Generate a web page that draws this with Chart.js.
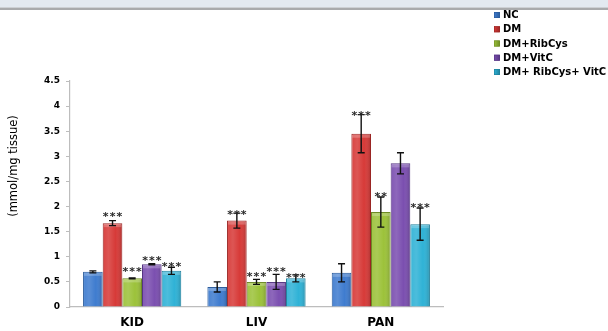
<!DOCTYPE html>
<html>
<head>
<meta charset="utf-8">
<script src="https://cdn.jsdelivr.net/npm/chart.js@4/dist/chart.umd.min.js"></script>
<style>
  html, body { margin: 0; padding: 0; background: #fff; }
  #wrap { width: 608px; height: 331px; position: relative; }
</style>
</head>
<body>
<div id="wrap"><canvas id="c" width="608" height="331"></canvas></div>
<script>
// Tissues on the x axis
const categories = ['KID', 'LIV', 'PAN'];

// Group names
const groupNames = ['NC', 'DM', 'DM+RibCys', 'DM+VitC', 'DM+ RibCys+ VitC'];

// Mean values (mmol/mg tissue)
const ncValues      = [0.70, 0.40, 0.68];
const dmValues      = [1.67, 1.72, 3.45];
const ribCysValues  = [0.57, 0.50, 1.89];
const vitCValues    = [0.85, 0.50, 2.86];
const comboValues   = [0.72, 0.57, 1.65];

// Error (± SEM)
const ncErr     = [0.02, 0.10, 0.18];
const dmErr     = [0.05, 0.15, 0.38];
const ribCysErr = [0.01, 0.05, 0.30];
const vitCErr   = [0.01, 0.15, 0.21];
const comboErr  = [0.07, 0.07, 0.32];

// Significance marks and the level (in axis units) where each is written
const ncSig      = ['', '', ''];
const dmSig      = ['***', '***', '***'];
const ribCysSig  = ['***', '***', '**'];
const vitCSig    = ['***', '***', ''];
const comboSig   = ['***', '***', '***'];
const ncSigAt     = [null, null, null];
const dmSigAt     = [1.87, 1.91, 3.88];
const ribCysSigAt = [0.78, 0.68, 2.26];
const vitCSigAt   = [0.99, 0.78, null];
const comboSigAt  = [0.88, 0.65, 2.05];

// Y axis ticks
const yTicks = [0, 0.5, 1, 1.5, 2, 2.5, 3, 3.5, 4, 4.5];
const yTitle = '(mmol/mg tissue)';

const fills   = ['#3f7ccf', '#d73a38', '#9cc23a', '#7b4fb0', '#2fb2d6'];
const borders = ['#2a5a9a', '#9a2624', '#6d8a25', '#553582', '#1f7f9a'];

const values = [ncValues, dmValues, ribCysValues, vitCValues, comboValues];
const errors = [ncErr, dmErr, ribCysErr, vitCErr, comboErr];
const sigs   = [ncSig, dmSig, ribCysSig, vitCSig, comboSig];
const sigAt  = [ncSigAt, dmSigAt, ribCysSigAt, vitCSigAt, comboSigAt];

const FONT = '"DejaVu Sans", "Liberation Sans", Arial, sans-serif';

// Page header band
const headerBand = {
  id: 'headerBand',
  beforeDraw(chart) {
    const ctx = chart.ctx;
    ctx.save();
    ctx.fillStyle = '#e3e9f0';
    ctx.fillRect(0, 0, chart.width, 7);
    ctx.fillStyle = '#cdd0d4';
    ctx.fillRect(0, 7, chart.width, 1);
    ctx.fillStyle = '#a9aaac';
    ctx.fillRect(0, 8, chart.width, 2);
    ctx.restore();
  }
};

// Glossy shading on the bars, error bars and significance stars
const barExtras = {
  id: 'barExtras',
  afterDatasetsDraw(chart) {
    const ctx = chart.ctx;
    const y = chart.scales.y;
    ctx.save();
    chart.data.datasets.forEach((ds, d) => {
      const meta = chart.getDatasetMeta(d);
      meta.data.forEach((bar, i) => {
        const left = bar.x - bar.width / 2;
        const right = bar.x + bar.width / 2;
        const top = bar.y;
        const bottom = bar.base;
        // shading
        const g = ctx.createLinearGradient(left, 0, right, 0);
        g.addColorStop(0, 'rgba(255,255,255,0.05)');
        g.addColorStop(0.3, 'rgba(255,255,255,0.14)');
        g.addColorStop(0.65, 'rgba(255,255,255,0.0)');
        g.addColorStop(1, 'rgba(0,0,0,0.20)');
        ctx.fillStyle = g;
        ctx.fillRect(left + 1, top + 1, bar.width - 2, bottom - top - 1);
        ctx.fillStyle = 'rgba(255,255,255,0.22)';
        ctx.fillRect(left + 1, top + 1, bar.width - 2, Math.min(3, bottom - top - 1));

        // error bar
        const v = values[d][i], e = errors[d][i];
        const yHi = y.getPixelForValue(v + e);
        const yLo = y.getPixelForValue(v - e);
        ctx.strokeStyle = '#111';
        ctx.lineWidth = 1.4;
        ctx.beginPath();
        ctx.moveTo(bar.x, yHi); ctx.lineTo(bar.x, yLo);
        ctx.moveTo(bar.x - 3.5, yHi); ctx.lineTo(bar.x + 3.5, yHi);
        ctx.moveTo(bar.x - 3.5, yLo); ctx.lineTo(bar.x + 3.5, yLo);
        ctx.stroke();

        // significance stars
        const s = sigs[d][i];
        if (s && sigAt[d][i] != null) {
          const cy = y.getPixelForValue(sigAt[d][i]);
          const n = s.length, step = 6.8;
          ctx.fillStyle = '#2a2a2a';
          ctx.font = 'bold 11px ' + FONT;
          ctx.textAlign = 'center';
          ctx.textBaseline = 'alphabetic';
          for (let k = 0; k < n; k++) {
            const sx = bar.x + (k - (n - 1) / 2) * step;
            ctx.fillText('*', sx, cy + 7);
          }
        }
      });
    });
    ctx.restore();
  }
};

// Y title and legend
const labelsPlugin = {
  id: 'labelsPlugin',
  afterDraw(chart) {
    const ctx = chart.ctx;
    ctx.save();
    ctx.translate(14, 166);
    ctx.rotate(-Math.PI / 2);
    ctx.font = '11.5px ' + FONT;
    ctx.fillStyle = '#000';
    ctx.textAlign = 'center';
    ctx.textBaseline = 'middle';
    ctx.fillText(yTitle, 0, 0);
    ctx.restore();

    ctx.save();
    ctx.font = 'bold 10px ' + FONT;
    ctx.textBaseline = 'middle';
    ctx.textAlign = 'left';
    groupNames.forEach((name, d) => {
      const cy = 15 + d * 14.25;
      const mx = 494, ms = 6;
      const g = ctx.createLinearGradient(mx, 0, mx + ms, 0);
      g.addColorStop(0, fills[d]);
      g.addColorStop(1, borders[d]);
      ctx.fillStyle = g;
      ctx.fillRect(mx, cy - ms / 2, ms, ms);
      ctx.strokeStyle = borders[d];
      ctx.lineWidth = 0.6;
      ctx.strokeRect(mx + 0.3, cy - ms / 2 + 0.3, ms - 0.6, ms - 0.6);
      ctx.fillStyle = '#000';
      ctx.fillText(name, 503, cy + 0.5);
    });
    ctx.restore();
  }
};

new Chart(document.getElementById('c'), {
  type: 'bar',
  data: {
    labels: categories,
    datasets: groupNames.map((name, d) => ({
      label: name,
      data: values[d],
      backgroundColor: fills[d],
      borderColor: borders[d],
      borderWidth: 1,
      borderSkipped: 'bottom',
      categoryPercentage: 0.79,
      barPercentage: 1.0
    }))
  },
  options: {
    responsive: false,
    animation: false,
    events: [],
    layout: { padding: { top: 81, right: 165, left: 0, bottom: 0 } },
    plugins: { legend: { display: false }, tooltip: { enabled: false }, title: { display: false } },
    scales: {
      x: {
        grid: { display: false },
        border: { display: true, color: '#bdbdbd', width: 1.2 },
        ticks: {
          color: '#000',
          padding: 1,
          font: { family: FONT, size: 12, weight: 'bold' }
        },
        afterFit(scale) { scale.height = 24; }
      },
      y: {
        min: 0,
        max: 4.5,
        afterBuildTicks(scale) { scale.ticks = yTicks.map(v => ({ value: v })); },
        grid: { display: true, drawOnChartArea: false, drawTicks: true, tickLength: 4, color: '#bdbdbd' },
        border: { display: true, color: '#bdbdbd', width: 1.2 },
        ticks: {
          color: '#000',
          padding: 6,
          font: { family: FONT, size: 9, weight: 'bold' },
          callback: v => String(v)
        },
        afterFit(scale) { scale.width = 70; }
      }
    }
  },
  plugins: [headerBand, barExtras, labelsPlugin]
});
</script>
</body>
</html>
